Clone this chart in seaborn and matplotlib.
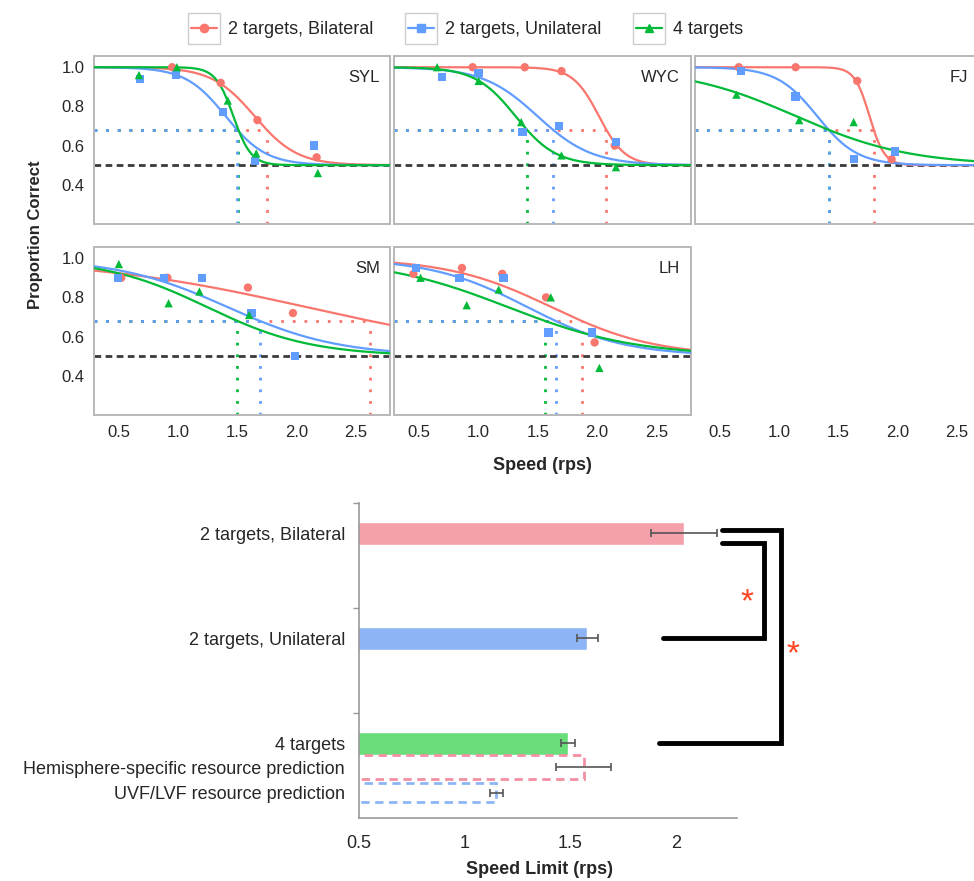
import numpy as np
import pandas as pd
import matplotlib.pyplot as plt
from matplotlib.lines import Line2D
from matplotlib.patches import Rectangle
import seaborn as sns

sns.set_theme(style="white")
plt.rcParams['font.family'] = ['Liberation Sans Narrow', 'Liberation Sans', 'DejaVu Sans']

conditions = ["2 targets, Bilateral", "2 targets, Unilateral", "4 targets"]
colors = ["#F8766D", "#619CFF", "#00BA38"]
markers = ["o", "s", "^"]
subjects = ["SYL", "WYC", "FJ", "SM", "LH"]

# observed proportion correct (speed in rps, proportion) per subject / condition
syl_bil = ([0.95, 1.36, 1.67, 2.17], [1.00, 0.92, 0.73, 0.54])
syl_uni = ([0.68, 0.98, 1.38, 1.65, 2.15], [0.94, 0.96, 0.77, 0.52, 0.60])
syl_four = ([0.67, 0.99, 1.42, 1.66, 2.18], [0.96, 1.00, 0.83, 0.56, 0.46])
wyc_bil = ([0.95, 1.39, 1.70, 2.15], [1.00, 1.00, 0.98, 0.60])
wyc_uni = ([0.69, 1.00, 1.37, 1.68, 2.16], [0.95, 0.97, 0.67, 0.70, 0.62])
wyc_four = ([0.65, 1.00, 1.36, 1.70, 2.16], [1.00, 0.93, 0.72, 0.55, 0.49])
fj_bil = ([0.66, 1.14, 1.66, 1.95], [1.00, 1.00, 0.93, 0.53])
fj_uni = ([0.68, 1.14, 1.63, 1.98], [0.98, 0.85, 0.53, 0.57])
fj_four = ([0.64, 1.17, 1.63], [0.86, 0.73, 0.72])
sm_bil = ([0.52, 0.91, 1.59, 1.97], [0.90, 0.90, 0.85, 0.72])
sm_uni = ([0.49, 0.88, 1.20, 1.62, 1.99], [0.90, 0.90, 0.90, 0.72, 0.50])
sm_four = ([0.50, 0.92, 1.18, 1.60], [0.97, 0.77, 0.83, 0.71])
lh_bil = ([0.45, 0.86, 1.20, 1.57, 1.98], [0.92, 0.95, 0.92, 0.80, 0.57])
lh_uni = ([0.47, 0.84, 1.21, 1.59, 1.96], [0.95, 0.90, 0.90, 0.62, 0.62])
lh_four = ([0.51, 0.90, 1.17, 1.61, 2.02], [0.90, 0.76, 0.84, 0.80, 0.44])

observed = {
    "SYL": [syl_bil, syl_uni, syl_four],
    "WYC": [wyc_bil, wyc_uni, wyc_four],
    "FJ": [fj_bil, fj_uni, fj_four],
    "SM": [sm_bil, sm_uni, sm_four],
    "LH": [lh_bil, lh_uni, lh_four],
}

# fitted psychometric functions: speed limit at 0.68 correct and slope (per subject)
thr_bil = [1.75, 2.08, 1.80, 2.62, 1.87]
thr_uni = [1.50, 1.63, 1.42, 1.69, 1.65]
thr_four = [1.51, 1.41, 1.42, 1.50, 1.56]
slope_bil = [0.18, 0.11, 0.063, 0.93, 0.44]
slope_uni = [0.17, 0.23, 0.17, 0.47, 0.41]
slope_four = [0.075, 0.17, 0.48, 0.44, 0.54]
criterion = 0.68
chance = 0.5

# speed limits (bottom panel)
bar_labels = ["2 targets, Bilateral", "2 targets, Unilateral", "4 targets"]
bar_means = [2.04, 1.58, 1.49]
bar_err = [0.155, 0.05, 0.035]
bar_colors = ["#F4A1AC", "#8DB5F5", "#69DD7A"]
pred_labels = ["Hemisphere-specific resource prediction", "UVF/LVF resource prediction"]
pred_means = [1.565, 1.15]
pred_err = [0.13, 0.03]
pred_colors = ["#F28FA2", "#8DB5F5"]

XLIM = (0.29, 2.79)
YLIM = (0.2, 1.057)

thr = [thr_bil, thr_uni, thr_four]
slope = [slope_bil, slope_uni, slope_four]
grid = np.linspace(XLIM[0], XLIM[1], 200)
rows = []
for i, s in enumerate(subjects):
    for k, c in enumerate(conditions):
        z = np.log(1.0 / (criterion - chance) * 0.5 - 1.0)
        m = thr[k][i] - z * slope[k][i]
        p = chance + (1 - chance) / (1 + np.exp((grid - m) / slope[k][i]))
        rows.append(pd.DataFrame({"subject": s, "condition": c, "speed": grid, "p": p}))
curves = pd.concat(rows, ignore_index=True)

pts = []
for s in subjects:
    for k, c in enumerate(conditions):
        xs, ys = observed[s][k]
        pts.append(pd.DataFrame({"subject": s, "condition": c, "speed": xs, "p": ys}))
points = pd.concat(pts, ignore_index=True)

pal = dict(zip(conditions, colors))
mk = dict(zip(conditions, markers))

fig = plt.figure(figsize=(9.74, 8.81), dpi=100)
gs = fig.add_gridspec(2, 3, left=0.0965, right=1.0175, bottom=0.529, top=0.9364,
                      wspace=0.015, hspace=0.137)

axes = [fig.add_subplot(gs[0, 0]), fig.add_subplot(gs[0, 1]), fig.add_subplot(gs[0, 2]),
        fig.add_subplot(gs[1, 0]), fig.add_subplot(gs[1, 1])]

for i, (ax, s) in enumerate(zip(axes, subjects)):
    for k in [0, 2, 1]:
        t = thr[k][i]
        ax.plot([XLIM[0], t], [criterion, criterion], color=colors[k], ls=(0, (1, 3.2)), lw=2, zorder=1)
        ax.plot([t, t], [YLIM[0], criterion], color=colors[k], ls=(0, (1, 3.2)), lw=2, zorder=1)
    ax.axhline(chance, color="#3a3a3a", ls=(0, (2.4, 1.6)), lw=2, zorder=2)
    sns.lineplot(data=curves[curves.subject == s], x="speed", y="p", hue="condition",
                 palette=pal, lw=1.6, legend=False, ax=ax, zorder=3)
    sns.scatterplot(data=points[points.subject == s], x="speed", y="p", hue="condition",
                    style="condition", markers=mk, palette=pal, s=36, linewidth=0,
                    legend=False, ax=ax, zorder=4)
    ax.set_xlim(*XLIM)
    ax.set_ylim(*YLIM)
    ax.set_xlabel("")
    ax.set_ylabel("")
    ax.set_xticks([0.5, 1.0, 1.5, 2.0, 2.5])
    ax.set_yticks([0.4, 0.6, 0.8, 1.0])
    for sp in ax.spines.values():
        sp.set_color("#b8b8b8")
        sp.set_linewidth(1.4)
    # the third column runs past the right edge of the figure
    tx = 0.922 if s == "FJ" else 0.965
    ax.text(tx, 0.87, s, transform=ax.transAxes, ha="right", va="center", fontsize=12)
    ax.tick_params(axis="both", length=4, color="#999999", labelsize=12, pad=3)
    if i % 3 != 0:
        ax.tick_params(axis="y", left=False, labelleft=False)
    if i < 3:
        ax.tick_params(axis="x", bottom=False, labelbottom=False)
    else:
        ax.set_xticklabels(["0.5", "1.0", "1.5", "2.0", "2.5"])
    ax.set_yticklabels(["0.4", "0.6", "0.8", "1.0"])

# empty slot keeps its speed axis
ax_e = fig.add_subplot(gs[1, 2])
ax_e.set_xlim(*XLIM)
ax_e.set_xticks([0.5, 1.0, 1.5, 2.0, 2.5])
ax_e.set_xticklabels(["0.5", "1.0", "1.5", "2.0", "2.5"])
ax_e.set_yticks([])
for sp in ax_e.spines.values():
    sp.set_visible(False)
ax_e.tick_params(axis="x", length=4, color="#999999", labelsize=12, pad=3)

fig.text(0.036, 1 - 235 / 881, "Proportion Correct", rotation=90, ha="center", va="center",
         fontsize=12, fontweight="bold")
fig.text(542 / 974, 1 - 465 / 881, "Speed (rps)", ha="center", va="center",
         fontsize=13, fontweight="bold")

handles = [Line2D([0], [0], color=colors[k], marker=markers[k], lw=1.6, markersize=6)
           for k in range(3)]
leg = fig.legend(handles, conditions, loc="center", bbox_to_anchor=(467 / 974, 1 - 30 / 881),
                 ncol=3, frameon=False, fontsize=13, handlelength=1.45, handletextpad=0.6,
                 columnspacing=1.9)

# bottom panel: speed limits
axb = fig.add_axes([359 / 974, 1 - 818 / 881, 378 / 974, 315 / 881])
sns.barplot(x=bar_means, y=bar_labels, hue=bar_labels, palette=bar_colors, width=0.22,
            saturation=1, legend=False, orient="h", ax=axb)
pred_pos = [2.225, 2.47]
axb.barh(pred_pos, pred_means, height=[0.22, 0.18], fill=False, edgecolor=pred_colors,
         linestyle=(0, (3, 2)), lw=2)
axb.errorbar(bar_means + pred_means, [0, 1, 2] + pred_pos, xerr=bar_err + pred_err,
             fmt="none", ecolor="#555555", elinewidth=1.2, capsize=3, capthick=1.2)
axb.set_xlim(0.5, 2.29)
axb.set_ylim(2.71, -0.286)
axb.set_xticks([0.5, 1, 1.5, 2])
axb.set_xticklabels(["0.5", "1", "1.5", "2"])
axb.set_yticks([0, 1, 2] + pred_pos)
axb.set_yticklabels(bar_labels + pred_labels)
axb.set_yticks([-0.286, 0.714, 1.714], minor=True)
axb.tick_params(axis="both", which="major", length=0, labelsize=13)
axb.tick_params(axis="y", which="major", pad=10)
axb.tick_params(axis="x", which="major", pad=12)
axb.tick_params(axis="y", which="minor", left=True, length=4, color="#999999")
axb.set_xlabel("")
axb.set_ylabel("")
for side in ["top", "right"]:
    axb.spines[side].set_visible(False)
for side in ["left", "bottom"]:
    axb.spines[side].set_color("#9a9a9a")
    axb.spines[side].set_linewidth(1.2)

# significance brackets
axb.plot([2.22, 2.50, 2.50, 1.92], [-0.03, -0.03, 2.0, 2.0], color="black", lw=3.5,
         clip_on=False, solid_joinstyle="miter")
axb.plot([2.22, 2.42, 2.42, 1.94], [0.09, 0.09, 1.0, 1.0], color="black", lw=3.5,
         clip_on=False, solid_joinstyle="miter")
axb.text(2.336, 0.66, "*", color="#FF4422", fontsize=24, ha="center", va="center", clip_on=False)
axb.text(2.554, 1.16, "*", color="#FF4422", fontsize=24, ha="center", va="center", clip_on=False)

fig.text(540 / 974, 1 - 870 / 881, "Speed Limit (rps)", ha="center", va="center",
         fontsize=13, fontweight="bold")

# light boxes round the legend keys
fig.canvas.draw()
r = fig.canvas.get_renderer()
inv = fig.transFigure.inverted()
for h in leg.legend_handles:
    bb = h.get_window_extent(r)
    cx, cy = (bb.x0 + bb.x1) / 2, (bb.y0 + bb.y1) / 2
    (x0, y0), (x1, y1) = inv.transform([(cx - 16, cy - 15.5), (cx + 16, cy + 15.5)])
    fig.add_artist(Rectangle((x0, y0), x1 - x0, y1 - y0, transform=fig.transFigure,
                             fill=False, ec="#cccccc", lw=1))

fig.savefig("out.png", dpi=100)
